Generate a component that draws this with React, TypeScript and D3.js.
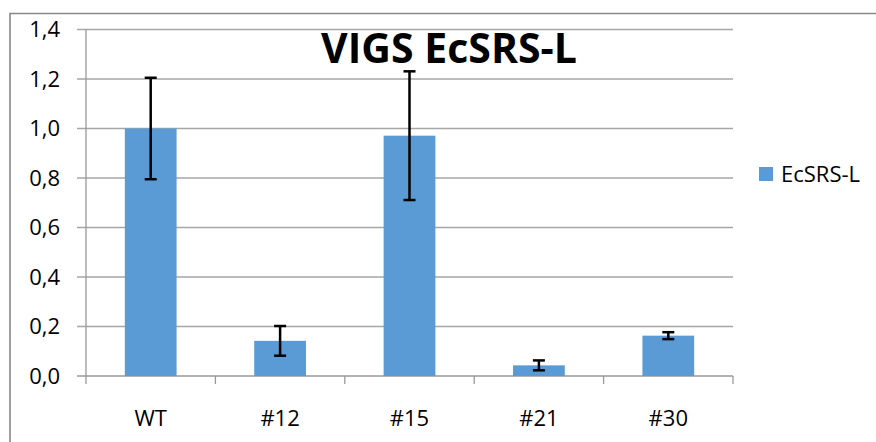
import React from "react";
import * as d3 from "d3";

const categories = ["WT", "#12", "#15", "#21", "#30"];
const values = [1.0, 0.142, 0.971, 0.043, 0.163];
const errors = [0.205, 0.06, 0.26, 0.02, 0.014];
const yTicks = [0, 0.2, 0.4, 0.6, 0.8, 1.0, 1.2, 1.4];
const seriesName = "EcSRS-L";
const title = "VIGS EcSRS-L";

const W = 876;
const H = 442;
const left = 86;
const right = 733;
const top = 29.5;
const bottom = 376;
const font = "'Open Sans', 'Liberation Sans', sans-serif";

export default function App() {
  const x = d3.scaleBand().domain(categories).range([left, right]).paddingInner(0.6).paddingOuter(0.3);
  const band = d3.scaleBand().domain(categories).range([left, right]);
  const y = d3.scaleLinear().domain([0, 1.4]).range([bottom, top]);
  const fmt = (v: number) => v.toFixed(1).replace(".", ",");
  const barColor = "#5b9bd5";
  return (
    <svg width={W} height={H} style={{ position: "absolute", left: 0, top: 0, background: "#fff" }}>
      <rect x={0} y={0} width={W} height={H} fill="#fff" />
      <path d={`M10,${H + 5}V13.5H${W + 5}`} fill="none" stroke="#888" strokeWidth={1.6} />
      {yTicks.map((t) => (
        <g key={t}>
          <line x1={77} x2={right} y1={y(t)} y2={y(t)} stroke={t === 0 ? "#999" : "#a6a6a6"} strokeWidth={1.3} />
          <text x={60} y={y(t)} dy="0.36em" textAnchor="end" fontFamily={font} fontSize={22} fill="#000">
            {fmt(t)}
          </text>
        </g>
      ))}
      <line x1={left} x2={left} y1={top} y2={bottom + 8} stroke="#999" strokeWidth={1.3} />
      {categories.map((c) => (
        <line key={"t" + c} x1={band(c)! + band.bandwidth()} x2={band(c)! + band.bandwidth()} y1={bottom} y2={bottom + 8} stroke="#999" strokeWidth={1.3} />
      ))}
      {categories.map((c, i) => (
        <rect key={"b" + c} x={x(c)} y={y(values[i])} width={x.bandwidth()} height={bottom - y(values[i])} fill={barColor} />
      ))}
      {categories.map((c, i) => {
        const cx = x(c)! + x.bandwidth() / 2;
        const y1 = y(values[i] + errors[i]);
        const y2 = y(values[i] - errors[i]);
        return (
          <g key={"e" + c} stroke="#000" strokeWidth={2.5}>
            <line x1={cx} x2={cx} y1={y1} y2={y2} />
            <line x1={cx - 6} x2={cx + 6} y1={y1} y2={y1} />
            <line x1={cx - 6} x2={cx + 6} y1={y2} y2={y2} />
          </g>
        );
      })}
      {categories.map((c) => (
        <text key={"l" + c} x={band(c)! + band.bandwidth() / 2} y={426} textAnchor="middle" fontFamily={font} fontSize={22} fill="#000">
          {c}
        </text>
      ))}
      <text x={449} y={63} textAnchor="middle" fontFamily={font} fontWeight="bold" fontSize={41} fill="#000">
        {title}
      </text>
      <rect x={759} y={167} width={14} height={14} fill={barColor} />
      <text x={781} y={174} dy="0.36em" fontFamily={font} fontSize={22} fill="#000">
        {seriesName}
      </text>
    </svg>
  );
}
